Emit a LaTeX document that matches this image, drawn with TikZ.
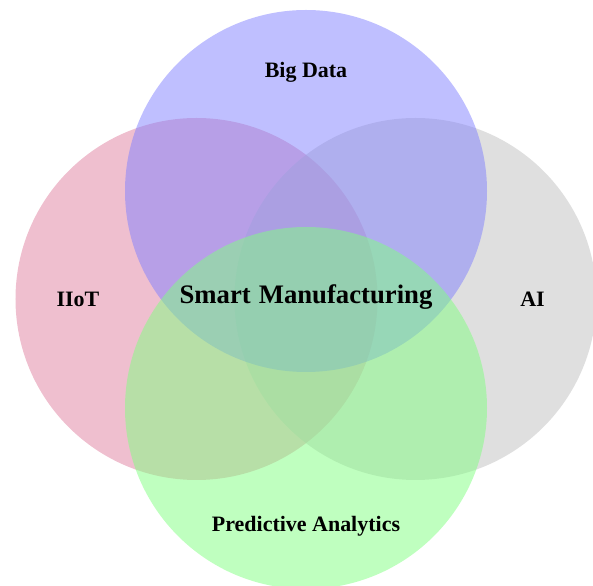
\documentclass[tikz,border=0pt]{standalone}
\usepackage{fontspec}
\setmainfont{Liberation Serif}
\begin{document}
\begin{tikzpicture}
  [venn/.style={circle,minimum size=7.24cm,inner sep=0pt,fill opacity=0.5},
   topic/.style={font=\fontsize{12.5}{15}\selectfont\bfseries},
   core/.style={font=\fontsize{15.2}{18}\selectfont\bfseries}]
\useasboundingbox (0,0) rectangle (11.86,11.72); % keep page size
\node at (3.93,5.74) (iiot) [venn, fill=purple!50] {};
\node at (8.31,5.74) (ai) [venn, fill=gray!50] {};
\node at (6.12,7.90) (bigdata) [venn, fill=blue!50] {};
\node at (6.12,3.56) (predictive) [venn, fill=green!50] {};
%
\node at (6.12,10.27) (bigdatatext) [topic] {Big Data};
\node at (1.56,5.74) (iiottext) [topic] {IIoT};
\node at (10.65,5.74) (aitext) [topic] {AI};
\node at (6.12,1.19) (predictivetext) [topic] {Predictive Analytics};
\node at (6.12,5.78) (smart) [core] {Smart\hspace{0.3em}Manufacturing};
\end{tikzpicture}
\end{document}
